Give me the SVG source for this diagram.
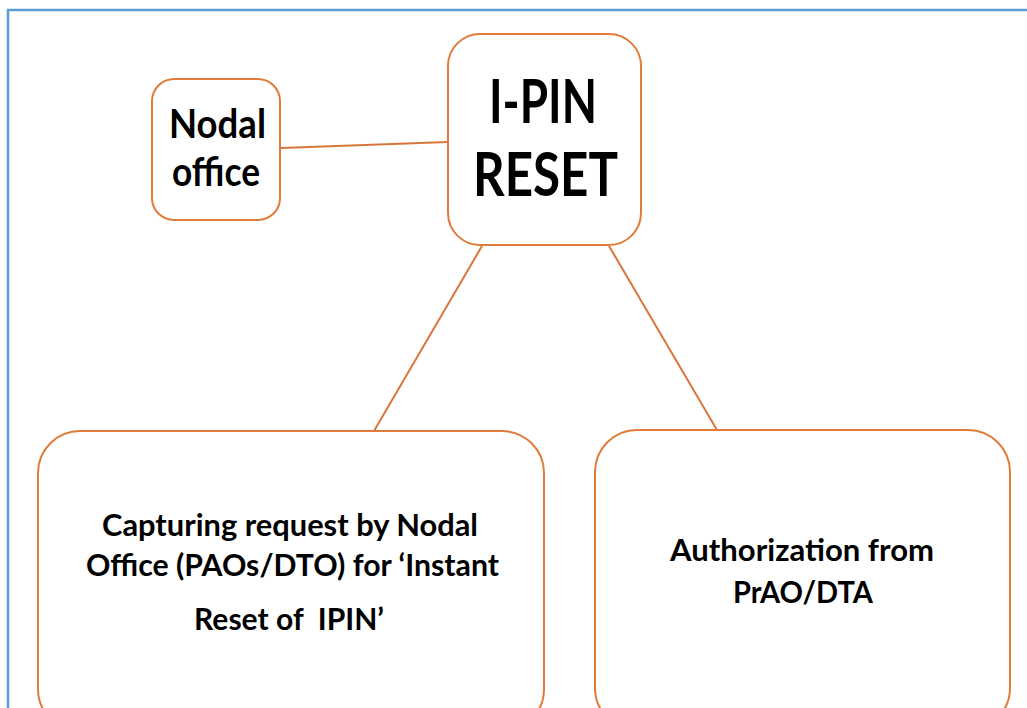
<svg xmlns="http://www.w3.org/2000/svg" width="1027" height="708" viewBox="0 0 1027 708">
  <style>
    .node { fill: #ffffff; stroke: #E07B39; stroke-width: 2; }
    .link { stroke: #D9773A; stroke-width: 2; fill: none; }
    .label { font-family: Lato, "Open Sans", "Liberation Sans", sans-serif; font-weight: bold; fill: #000000; }
  </style>
  <rect x="0" y="0" width="1027" height="708" fill="#ffffff"/>
  <!-- outer frame -->
  <rect x="8" y="10" width="1040" height="720" fill="none" stroke="#5B9BD5" stroke-width="2.5"/>

  <g id="connectors">
    <line class="link" x1="281" y1="148" x2="448" y2="142"/>
    <line class="link" x1="482" y1="246" x2="374" y2="431"/>
    <line class="link" x1="609" y1="246" x2="717" y2="430"/>
  </g>

  <g id="nodal-office">
    <rect class="node" x="152" y="79" width="128" height="141" rx="22"/>
    <text class="label" font-size="41" x="169" y="138" textLength="97" lengthAdjust="spacingAndGlyphs">Nodal</text>
    <text class="label" font-size="41" x="172" y="186" textLength="88" lengthAdjust="spacingAndGlyphs">office</text>
  </g>

  <g id="ipin-reset">
    <rect class="node" x="448" y="34" width="193" height="211" rx="32"/>
    <text class="label" font-size="62" x="489" y="123" textLength="108" lengthAdjust="spacingAndGlyphs">I-PIN</text>
    <text class="label" font-size="62" x="473" y="196" textLength="145" lengthAdjust="spacingAndGlyphs">RESET</text>
  </g>

  <g id="capturing-request">
    <rect class="node" x="38" y="431" width="506" height="300" rx="42"/>
    <text class="label" font-size="31" x="102" y="536" textLength="376" lengthAdjust="spacingAndGlyphs">Capturing request by Nodal</text>
    <text class="label" font-size="31" x="86" y="576" textLength="413" lengthAdjust="spacingAndGlyphs">Office (PAOs/DTO) for ‘Instant</text>
    <text class="label" font-size="31" x="194" y="630" textLength="190" lengthAdjust="spacingAndGlyphs" xml:space="preserve">Reset of  IPIN’</text>
  </g>

  <g id="authorization">
    <rect class="node" x="595" y="430" width="415" height="300" rx="42"/>
    <text class="label" font-size="31" x="670" y="561" textLength="264" lengthAdjust="spacingAndGlyphs">Authorization from</text>
    <text class="label" font-size="31" x="733" y="603" textLength="140" lengthAdjust="spacingAndGlyphs">PrAO/DTA</text>
  </g>
</svg>
